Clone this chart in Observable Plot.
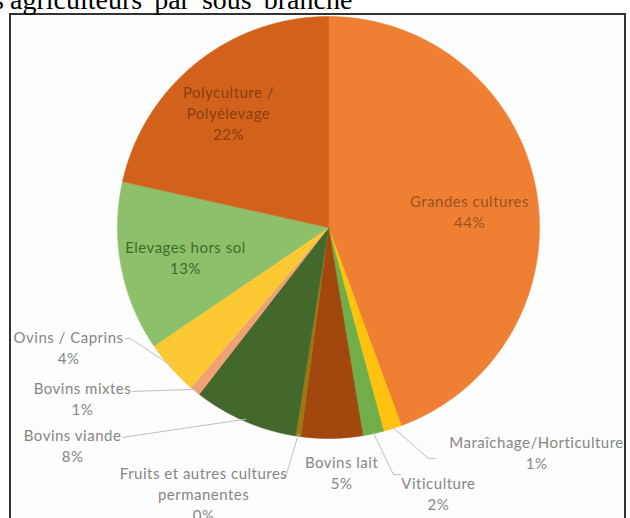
<!DOCTYPE html>
<html>
<head>
<meta charset="utf-8">
<script src="https://cdn.jsdelivr.net/npm/d3@7"></script>
<script src="https://cdn.jsdelivr.net/npm/@observablehq/plot@0.6"></script>
<style>
  html, body { margin: 0; padding: 0; background: #fff; }
  body { width: 630px; height: 518px; overflow: hidden; position: relative; }
  #title { position: absolute; left: 10px; top: -14px; font-family: "Liberation Serif", "DejaVu Serif", serif;
           font-size: 28px; line-height: 28px; color: #000; white-space: nowrap; word-spacing: 5px; }
  #title .pre { position: absolute; right: 100%; margin-right: 6px; }
  #frame { position: absolute; left: 9px; top: 13px; width: 613px; height: 560px; border: 2px solid #333; background: #fdfdfd; }
  #chart { position: absolute; left: 0; top: 14px; }
</style>
</head>
<body>
<div id="frame"></div>
<div id="title"><span class="pre">Répartition des</span>agriculteurs par sous branche</div>
<div id="chart"></div>
<script>
// ---- data ----
const categories = ["Grandes cultures", "Maraîchage/Horticulture", "Viticulture", "Bovins lait",
  "Fruits et autres cultures permanentes", "Bovins viande", "Bovins mixtes", "Ovins / Caprins",
  "Elevages hors sol", "Polyculture / Polyélevage"];
const shares = [44.4, 1.4, 1.6, 4.7, 0.4, 8.0, 0.8, 4.2, 13.0, 21.5];
const labelTexts = ["Grandes cultures", "Maraîchage/Horticulture", "Viticulture", "Bovins lait",
  "Fruits et autres cultures\npermanentes", "Bovins viande", "Bovins mixtes", "Ovins / Caprins",
  "Elevages hors sol", "Polyculture /\nPolyélevage"];

// ---- styles / layout ----
const colors = ["#EE7F33", "#FFC20E", "#6FAE48", "#A2480F", "#9C7812", "#43682B", "#F1A274", "#FDC933", "#8DC06A", "#D2621B"];
const labelColors = ["#9E5120", "#868686", "#868686", "#868686", "#868686", "#868686", "#868686", "#868686", "#3F6B2B", "#8A3F10"];
// label block centres, in pie-radius units relative to the pie centre
const labelX = [0.668, 0.986, 0.521, 0.062, -0.592, -1.213, -1.166, -1.232, -0.678, -0.474];
const labelY = [0.081, -1.062, -1.258, -1.156, -1.261, -1.031, -0.808, -0.564, -0.137, 0.545];
// leader lines: elbow and end points (radius units), null = no leader
const leaderElbow = [null, [0.474, -1.095], [0.308, -1.171], null, [-0.204, -1.185], [-0.976, -0.995], [-0.929, -0.777], [-0.938, -0.526], null, null];
const leaderEnd   = [null, [0.507, -1.095], [0.341, -1.171], null, [-0.227, -1.185], [-0.976, -0.995], [-0.929, -0.777], [-0.962, -0.526], null, null];

const W = 630, H = 504, cx = 328, cy = 213, R = 211;

// ---- geometry from data ----
const total = d3.sum(shares);
let cum = 0;
const slices = categories.map((name, i) => {
  const a0 = cum / total * 360; cum += shares[i];
  const a1 = cum / total * 360;
  return {name, i, a0, a1, mid: (a0 + a1) / 2};
});
const rad = d => d * Math.PI / 180;
const polyRows = [];
for (const s of slices) {
  polyRows.push({name: s.name, x: 0, y: 0});
  const n = Math.max(2, Math.ceil((s.a1 - s.a0) / 0.25));
  for (let k = 0; k <= n; k++) {
    const a = rad(s.a0 + (s.a1 - s.a0) * k / n);
    polyRows.push({name: s.name, x: Math.sin(a), y: Math.cos(a)});
  }
  polyRows.push({name: s.name, x: 0, y: 0});
}
const labelRows = slices.map(s => ({
  name: s.name, x: labelX[s.i], y: labelY[s.i],
  text: labelTexts[s.i] + "\n" + Math.round(shares[s.i]) + "%", color: labelColors[s.i]
}));
const leaderRows = [];
for (const s of slices) {
  if (!leaderElbow[s.i]) continue;
  const a = rad(s.mid);
  leaderRows.push({name: s.name, x: Math.sin(a) * 0.99, y: Math.cos(a) * 0.99});
  leaderRows.push({name: s.name, x: leaderElbow[s.i][0], y: leaderElbow[s.i][1]});
  leaderRows.push({name: s.name, x: leaderEnd[s.i][0], y: leaderEnd[s.i][1]});
}

const chart = Plot.plot({
  width: W, height: H,
  margin: 0,
  x: {domain: [-cx / R, (W - cx) / R], range: [0, W], axis: null},
  y: {domain: [-(H - cy) / R, cy / R], range: [H, 0], axis: null},
  color: {domain: categories, range: colors},
  style: {background: "transparent", fontFamily: "Lato, 'Open Sans', sans-serif", letterSpacing: "0.5px"},
  marks: [
    Plot.line(polyRows, {x: "x", y: "y", z: "name", fill: "name", stroke: "name", strokeWidth: 0.6, curve: "linear"}),
    Plot.line(leaderRows, {x: "x", y: "y", z: "name", stroke: "#BFBFBF", strokeWidth: 1}),
    Plot.text(labelRows, {x: "x", y: "y", text: "text", fill: "color", fontSize: 15, lineHeight: 1.4,
      textAnchor: "middle", lineAnchor: "middle"})
  ]
});
document.getElementById("chart").appendChild(chart);
</script>
</body>
</html>
